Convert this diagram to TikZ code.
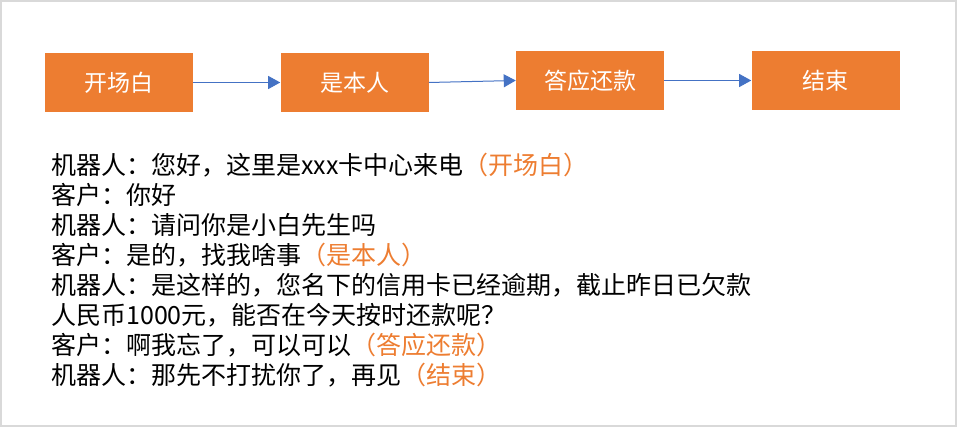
\documentclass[tikz,border=0pt]{standalone}
\usepackage{fontspec}
\setmainfont{Noto Sans CJK SC}
\usetikzlibrary{arrows.meta}
\definecolor{orng}{HTML}{ED7D31}
\definecolor{arrblue}{HTML}{4472C4}
\definecolor{framegray}{HTML}{D9D9D9}
\begin{document}
\begin{tikzpicture}[x=0.75pt,y=-0.75pt,
  stagebox/.style={fill=orng,draw=none,minimum width=111pt,minimum height=44.25pt,inner sep=0pt,
    text=white,font=\fontsize{17.25pt}{20pt}\selectfont},
  flowarrow/.style={draw=arrblue,line width=0.75pt,-{Triangle[length=9pt,width=9.75pt]}},
  line/.style={anchor=base west,inner sep=0pt,text=black,font=\fontsize{18.75pt}{22.5pt}\selectfont}]
\useasboundingbox (0,0) rectangle (957,427);
\draw[framegray,line width=1.5pt] (1,1) rectangle (956,426);
\node[stagebox] (s1) at (119,82.5) {开场白};
\node[stagebox] (s2) at (354.5,82.5) {是本人};
\node[stagebox] (s3) at (590,80.5) {答应还款};
\node[stagebox] (s4) at (825.5,80.5) {结束};
\draw[flowarrow] (s1) -- (s2);
\draw[flowarrow] (s2.east) -- (s3.west);
\draw[flowarrow] (s3) -- (s4);
\node[line] (l1) at (51,174.5) {机器人：您好，这里是xxx卡中心来电{\color{orng}（开场白）}};
\node[line] (l2) at (51,204.5) {客户：你好};
\node[line] (l3) at (51,234.5) {机器人：请问你是小白先生吗};
\node[line] (l4) at (51,264.5) {客户：是的，找我啥事{\color{orng}（是本人）}};
\node[line] (l5) at (51,294.5) {机器人：是这样的，您名下的信用卡已经逾期，截止昨日已欠款};
\node[line] (l6) at (51,324.5) {人民币1000元，能否在今天按时还款呢？};
\node[line] (l7) at (51,354.5) {客户：啊我忘了，可以可以{\color{orng}（答应还款）}};
\node[line] (l8) at (51,384.5) {机器人：那先不打扰你了，再见{\color{orng}（结束）}};
\end{tikzpicture}
\end{document}
